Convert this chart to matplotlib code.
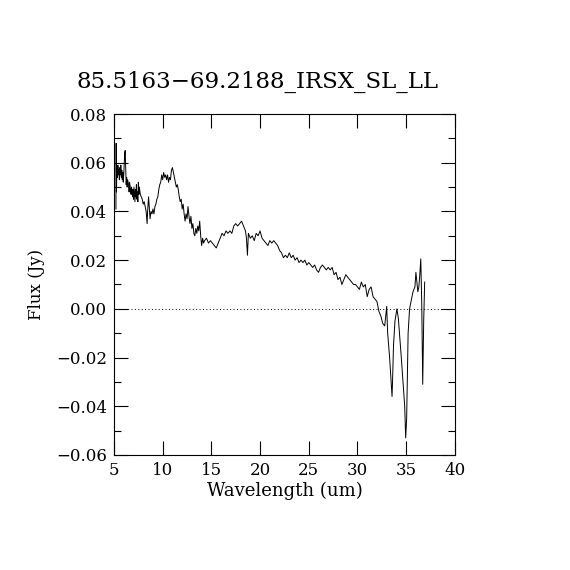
import matplotlib
matplotlib.use("Agg")
import matplotlib.pyplot as plt
from matplotlib.ticker import MultipleLocator

# Spectrum (wavelength in um, flux in Jy)
wave = [
    5.20, 5.22, 5.25, 5.30, 5.35, 5.40, 5.45, 5.50, 5.55, 5.60, 5.65, 5.70,
    5.75, 5.80, 5.85, 5.90, 5.95, 6.00, 6.05, 6.10, 6.15, 6.20, 6.25, 6.30,
    6.35, 6.40, 6.50, 6.55, 6.60, 6.70, 6.75, 6.80, 6.90, 6.95, 7.00, 7.05,
    7.10, 7.15, 7.20, 7.25, 7.30, 7.35, 7.40, 7.45, 7.50, 7.55, 7.60, 7.70,
    7.80, 7.90, 8.00, 8.10, 8.20, 8.30, 8.40, 8.45, 8.55, 8.60, 8.70, 8.80,
    8.90, 9.00, 9.10, 9.20, 9.30, 9.40, 9.50, 9.60, 9.70, 9.80, 9.90, 10.0,
    10.1, 10.2, 10.3, 10.4, 10.5, 10.6, 10.7, 10.8, 10.9, 11.0, 11.1, 11.2,
    11.3, 11.4, 11.5, 11.6, 11.7, 11.8, 11.9, 12.0, 12.1, 12.2, 12.3, 12.4,
    12.5, 12.6, 12.7, 12.8, 12.9, 13.0, 13.1, 13.2, 13.3, 13.4, 13.5, 13.6,
    13.7, 13.8, 13.9, 14.0, 14.1, 14.2, 14.3, 14.5, 14.7, 14.9, 15.1, 15.3,
    15.5, 15.7, 15.9, 16.1, 16.3, 16.5, 16.7, 16.9, 17.1, 17.3, 17.5, 17.7,
    17.9, 18.1, 18.3, 18.5, 18.6, 18.7, 18.8, 19.0, 19.2, 19.4, 19.6, 19.8,
    20.0, 20.2, 20.4, 20.6, 20.8, 21.0, 21.2, 21.4, 21.6, 21.8, 22.0, 22.2,
    22.4, 22.6, 22.8, 23.0, 23.2, 23.4, 23.6, 23.8, 24.0, 24.2, 24.4, 24.6,
    24.8, 25.0, 25.2, 25.4, 25.6, 25.8, 26.0, 26.2, 26.4, 26.6, 26.8, 27.0,
    27.2, 27.4, 27.6, 27.8, 28.0, 28.2, 28.4, 28.6, 28.8, 29.0, 29.2, 29.4,
    29.6, 29.8, 30.0, 30.2, 30.4, 30.6, 30.8, 31.0, 31.2, 31.4, 31.6, 31.8,
    32.0, 32.2, 32.4, 32.6, 32.8, 33.0, 33.1, 33.3, 33.55, 33.6, 33.7, 33.85,
    34.05, 34.2, 34.5, 34.85, 34.95, 35.05, 35.2, 35.35, 35.5, 35.7, 35.9,
    36.0, 36.1, 36.2, 36.3, 36.4, 36.5, 36.6, 36.7, 36.8, 36.9,
]
flux = [
    0.041, 0.068, 0.048, 0.058, 0.054, 0.059, 0.055, 0.057, 0.053, 0.058, 0.055, 0.059,
    0.054, 0.057, 0.053, 0.056, 0.052, 0.055, 0.060, 0.064, 0.065, 0.058, 0.051, 0.054,
    0.050, 0.053, 0.051, 0.048, 0.052, 0.049, 0.047, 0.050, 0.046, 0.049, 0.045, 0.050,
    0.047, 0.044, 0.049, 0.046, 0.051, 0.045, 0.048, 0.044, 0.052, 0.047, 0.050, 0.047,
    0.046, 0.045, 0.043, 0.044, 0.042, 0.040, 0.035, 0.040, 0.046, 0.043, 0.037, 0.040,
    0.039, 0.041, 0.039, 0.042, 0.043, 0.045, 0.046, 0.049, 0.051, 0.052, 0.055, 0.053,
    0.056, 0.054, 0.055, 0.053, 0.055, 0.052, 0.054, 0.053, 0.057, 0.058, 0.056, 0.054,
    0.052, 0.050, 0.051, 0.049, 0.046, 0.044, 0.045, 0.041, 0.043, 0.039, 0.036, 0.039,
    0.037, 0.042, 0.038, 0.035, 0.038, 0.033, 0.035, 0.031, 0.030, 0.033, 0.031, 0.034,
    0.032, 0.036, 0.030, 0.026, 0.029, 0.027, 0.028, 0.029, 0.027, 0.028, 0.027, 0.026,
    0.025, 0.027, 0.029, 0.031, 0.030, 0.032, 0.031, 0.032, 0.031, 0.034, 0.035, 0.034,
    0.035, 0.036, 0.034, 0.032, 0.029, 0.022, 0.031, 0.029, 0.030, 0.028, 0.031, 0.030,
    0.032, 0.029, 0.028, 0.027, 0.026, 0.028, 0.027, 0.028, 0.027, 0.026, 0.024, 0.023,
    0.021, 0.022, 0.021, 0.023, 0.021, 0.022, 0.020, 0.021, 0.019, 0.020, 0.019, 0.020,
    0.018, 0.019, 0.018, 0.017, 0.018, 0.016, 0.015, 0.017, 0.018, 0.017, 0.016, 0.017,
    0.016, 0.017, 0.014, 0.015, 0.012, 0.013, 0.010, 0.012, 0.014, 0.013, 0.012, 0.011,
    0.010, 0.010, 0.009, 0.008, 0.011, 0.009, 0.010, 0.005, 0.008, 0.009, 0.005, 0.004,
    0.003, -0.001, -0.003, -0.006, -0.007, 0.001, -0.010, -0.020, -0.036, -0.030, -0.015, -0.005,
    0.000, -0.004, -0.020, -0.040, -0.053, -0.045, -0.010, 0.000, 0.003, 0.007, 0.009,
    0.015, 0.011, 0.007, 0.009, 0.014, 0.0205, 0.002, -0.031, -0.005, 0.011,
]

title = "85.5163\u221269.2188_IRSX_SL_LL"

plt.rcParams["font.family"] = ["DejaVu Serif"]

fig = plt.figure(figsize=(5.7, 5.7), dpi=100)
ax = fig.add_axes([0.2, 0.2018, 0.598, 0.5982])

ax.plot(wave, flux, color="black", linewidth=0.7)
ax.axhline(0.0, color="black", linestyle=(0, (1, 2.5)), linewidth=0.7)

ax.set_xlim(5, 40)
ax.set_ylim(-0.06, 0.08)
ax.xaxis.set_major_locator(MultipleLocator(5))
ax.yaxis.set_major_locator(MultipleLocator(0.02))
ax.yaxis.set_minor_locator(MultipleLocator(0.01))
ax.yaxis.set_major_formatter(lambda v, pos: f"{v:.2f}".replace("-", "\u2212"))
ax.tick_params(which="both", direction="in", top=True, right=True, width=0.8,
               labelsize=12, pad=5)
ax.tick_params(which="major", length=10)
ax.tick_params(which="minor", length=5)
for s in ax.spines.values():
    s.set_linewidth(0.8)

ax.set_xlabel("Wavelength (um)", fontsize=13, labelpad=2)
ax.set_ylabel("Flux (Jy)", fontsize=12, labelpad=8)
# title sits a little left of the axes centre in the original
fig.text(0.452, 0.856, title, fontsize=16.5, ha="center", va="center")

fig.savefig("out.png", dpi=100)
